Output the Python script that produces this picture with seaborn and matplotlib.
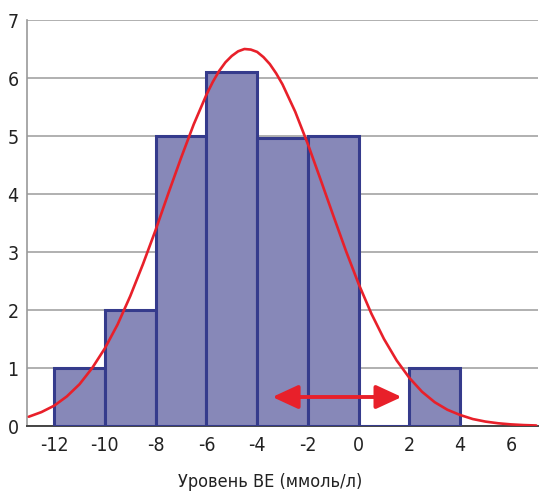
import numpy as np
import pandas as pd
import matplotlib
matplotlib.use("Agg")
import matplotlib.pyplot as plt
import seaborn as sns
from matplotlib import font_manager

# histogram bins (BE, mmol/l) and heights
bin_edges = [-12, -10, -8, -6, -4, -2, 0, 2, 4]
bin_centers = [-11, -9, -7, -5, -3, -1, 1, 3]
bin_counts = [1, 2, 5, 6.1, 4.97, 5, 0, 1]

# red curve
curve_x = [-13, -12.5, -12, -11.5, -11, -10.5, -10, -9.5, -9, -8.5, -8, -7.5, -7,
           -6.5, -6, -5.75, -5.5, -5.25, -5, -4.75, -4.5, -4.25, -4, -3.75, -3.5, -3.25,
           -3, -2.5, -2, -1.5, -1, -0.5, 0,
           0.5, 1, 1.5, 2, 2.5, 3, 3.5, 4, 4.5, 5, 5.5, 6, 6.5, 7]
curve_y = [0.16, 0.24, 0.35, 0.51, 0.72, 1.00, 1.34, 1.75, 2.24, 2.79, 3.38, 4.01, 4.62,
           5.20, 5.71, 5.93, 6.12, 6.27, 6.38, 6.46, 6.50, 6.49, 6.45, 6.36, 6.24, 6.08,
           5.89, 5.42, 4.86, 4.25, 3.63, 3.02, 2.45,
           1.94, 1.50, 1.13, 0.83, 0.59, 0.41, 0.28, 0.19, 0.12, 0.076, 0.047, 0.028, 0.016, 0.009]

# double arrow
arrow_x = [-3.4, 1.7]
arrow_y = 0.5

x_ticks = [-12, -10, -8, -6, -4, -2, 0, 2, 4, 6]
y_ticks = [0, 1, 2, 3, 4, 5, 6, 7]

sns.set_theme(style="white")
plt.rcParams['font.family'] = ['DejaVu Sans']
plt.rcParams['font.stretch'] = 'condensed'

bar_color = '#8788b8'
edge_color = '#353b8c'
red = '#e8202a'

fig = plt.figure(figsize=(5.4, 4.92), dpi=100)
ax = fig.add_axes([27 / 540, 1 - 426 / 492, 511 / 540, 406 / 492])

df = pd.DataFrame({'be': bin_centers, 'n': bin_counts})
sns.histplot(data=df, x='be', weights='n', bins=bin_edges, ax=ax,
             color=bar_color, alpha=1, edgecolor=edge_color, linewidth=2.2, zorder=3)

sns.lineplot(x=curve_x, y=curve_y, ax=ax, color=red, linewidth=1.9, zorder=4)

ax.annotate('', xy=(arrow_x[0], arrow_y), xytext=(arrow_x[1], arrow_y),
            arrowprops=dict(arrowstyle='<|-|>,head_length=1.3,head_width=0.6',
                            color=red, lw=2.8, shrinkA=0, shrinkB=0), zorder=5)

ax.set_xlim(-13.07, 7.07)
ax.set_ylim(0, 7)
ax.set_xticks(x_ticks)
ax.set_yticks(y_ticks)
ax.set_xticklabels([str(t) for t in x_ticks])
ax.tick_params(axis='both', length=0, labelsize=14, colors='#222222')
ax.tick_params(axis='x', pad=7)
ax.tick_params(axis='y', pad=6)
ax.yaxis.grid(True, color='#b0b0b0', linewidth=1.4, zorder=0)
ax.set_axisbelow(True)
ax.set_xlabel('')
ax.set_ylabel('')
for s in ['top', 'right']:
    ax.spines[s].set_visible(False)
ax.spines['left'].set_color('#999999')
ax.spines['left'].set_linewidth(1.2)
ax.spines['bottom'].set_color('#444444')
ax.spines['bottom'].set_linewidth(1.4)

fig.text(270 / 540, 1 - 482 / 492, 'Уровень BE (ммоль/л)', ha='center', va='center',
         fontsize=13, color='#222222')

fig.savefig('out.png', dpi=100)
